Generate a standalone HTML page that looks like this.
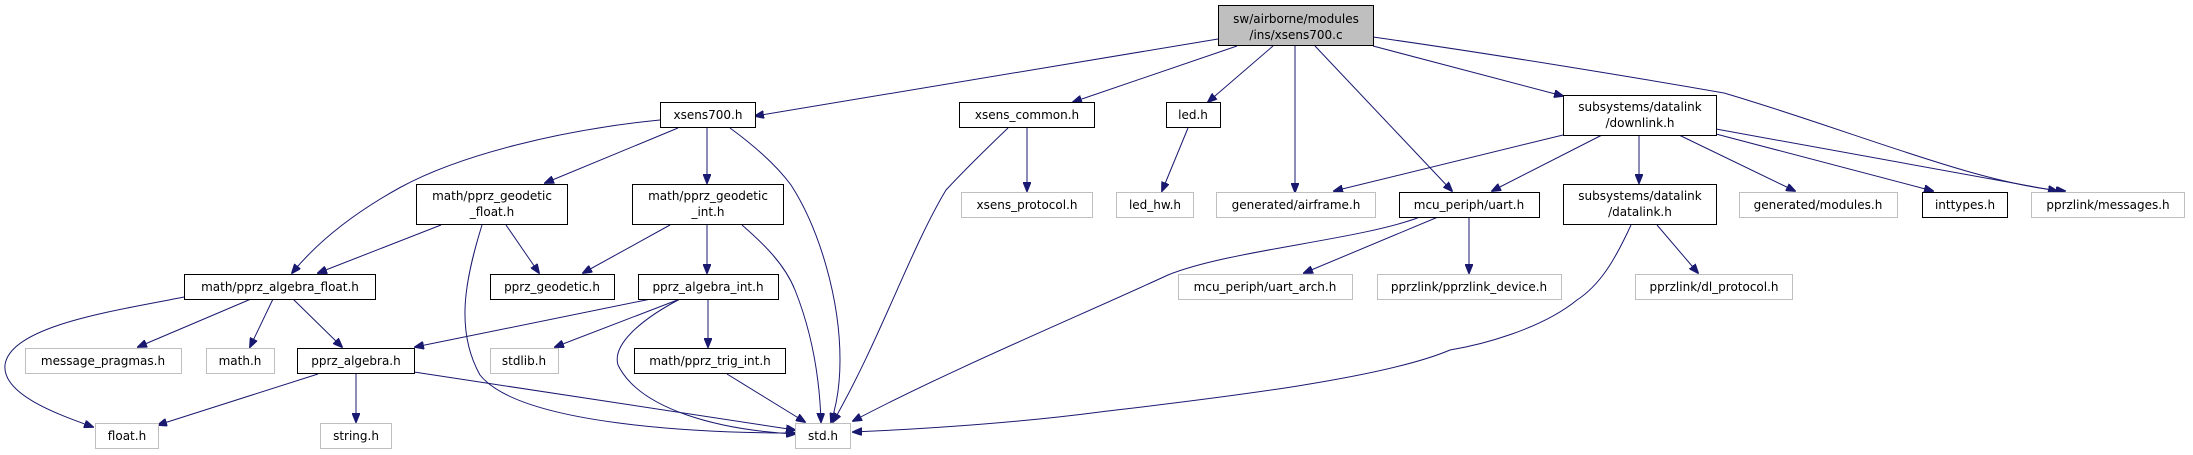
<!DOCTYPE html>
<html><head><meta charset="utf-8"><style>
html,body{margin:0;padding:0;background:#fff;}
svg{display:block;}
text{font-family:"DejaVu Sans","Liberation Sans",sans-serif;font-size:12px;fill:#000;text-anchor:middle;}
.b{fill:#fff;stroke:#000;stroke-width:1;}
.g{fill:#fff;stroke:#bfbfbf;stroke-width:1;}
.m{fill:#bfbfbf;stroke:#000;stroke-width:1;}
path.e{fill:none;stroke:#191970;stroke-width:1;marker-end:url(#a);}
</style></head><body>
<svg width="2193" height="455" viewBox="0 0 2193 455" xmlns="http://www.w3.org/2000/svg">
<defs><marker id="a" markerWidth="10" markerHeight="8" refX="9" refY="4" orient="auto" markerUnits="userSpaceOnUse"><path d="M0,0 L10,4 L0,8 z" fill="#191970" stroke="#191970"/></marker></defs>

<!-- edges -->
<path class="e" d="M1218,39 L755,116"/>
<path class="e" d="M1237,46 L1073,102"/>
<path class="e" d="M1273,46 L1208,102"/>
<path class="e" d="M1295,46 L1295,192"/>
<path class="e" d="M1315,46 L1452,191"/>
<path class="e" d="M1373,46 L1563,96"/>
<path class="e" d="M1373,37 C1500,55 1650,80 1724,93 C1850,130 1980,185 2065,191"/>
<path class="e" d="M660,120 C560,130 460,155 401,187 C350,215 315,245 292,273"/>
<path class="e" d="M678,128 L545,183"/>
<path class="e" d="M707,128 L707,183"/>
<path class="e" d="M730,128 C760,150 780,170 791,185 C820,230 840,300 840,360 C840,390 835,410 831,422"/>
<path class="e" d="M441,225 L318,273"/>
<path class="e" d="M506,225 L539,273"/>
<path class="e" d="M482,225 C465,280 455,330 480,375 C520,425 700,433 795,433"/>
<path class="e" d="M670,225 L583,273"/>
<path class="e" d="M707,225 L707,273"/>
<path class="e" d="M742,225 C765,245 785,265 795,290 C815,340 820,390 821,422"/>
<path class="e" d="M184,297 C120,310 10,325 5,365 C2,395 60,415 93,427"/>
<path class="e" d="M251,299 L138,347"/>
<path class="e" d="M273,299 L250,347"/>
<path class="e" d="M293,299 L342,347"/>
<path class="e" d="M651,299 L415,347"/>
<path class="e" d="M680,299 L555,347"/>
<path class="e" d="M708,299 L708,347"/>
<path class="e" d="M680,299 C640,320 612,345 618,365 C640,410 720,430 795,434"/>
<path class="e" d="M318,374 L158,425"/>
<path class="e" d="M356,374 L356,422"/>
<path class="e" d="M414,372 L795,430"/>
<path class="e" d="M727,374 L805,422"/>
<path class="e" d="M1027,128 L1027,191"/>
<path class="e" d="M1008,128 C985,150 960,175 946,190 C910,250 880,340 833,422"/>
<path class="e" d="M1188,128 L1162,191"/>
<path class="e" d="M1420,217 C1360,240 1230,250 1168,275 C1070,320 950,370 853,421"/>
<path class="e" d="M1438,217 L1304,273"/>
<path class="e" d="M1469,217 L1469,273"/>
<path class="e" d="M1563,135 L1334,191"/>
<path class="e" d="M1602,135 L1492,191"/>
<path class="e" d="M1639,135 L1639,183"/>
<path class="e" d="M1679,135 L1795,191"/>
<path class="e" d="M1716,134 L1933,191"/>
<path class="e" d="M1716,129 L2057,191"/>
<path class="e" d="M1631,225 C1615,260 1600,285 1577,300 C1540,330 1480,345 1450,350 C1380,380 1200,400 1100,412 C1000,425 900,430 853,432"/>
<path class="e" d="M1657,225 L1698,273"/>

<!-- nodes -->
<rect class="m" x="1218.5" y="5.5" width="155" height="40"/>
<text x="1296" y="23">sw/airborne/modules</text><text x="1296" y="39">/ins/xsens700.c</text>

<rect class="b" x="660.5" y="102.5" width="95" height="25"/><text x="708" y="119">xsens700.h</text>
<rect class="b" x="959.5" y="102.5" width="135" height="25"/><text x="1027" y="119">xsens_common.h</text>
<rect class="b" x="1166.5" y="102.5" width="54" height="25"/><text x="1193" y="119">led.h</text>
<rect class="b" x="1563.5" y="95.5" width="153" height="40"/>
<text x="1640" y="111">subsystems/datalink</text><text x="1640" y="127">/downlink.h</text>

<rect class="b" x="416.5" y="184.5" width="151" height="40"/>
<text x="492" y="200">math/pprz_geodetic</text><text x="492" y="216">_float.h</text>
<rect class="b" x="632.5" y="184.5" width="151" height="40"/>
<text x="708" y="200">math/pprz_geodetic</text><text x="708" y="216">_int.h</text>
<rect class="g" x="961.5" y="192.5" width="131" height="25"/><text x="1027" y="209">xsens_protocol.h</text>
<rect class="g" x="1116.5" y="192.5" width="77" height="25"/><text x="1155" y="209">led_hw.h</text>
<rect class="g" x="1216.5" y="192.5" width="159" height="25"/><text x="1296" y="209">generated/airframe.h</text>
<rect class="b" x="1399.5" y="192.5" width="140" height="25"/><text x="1469" y="209">mcu_periph/uart.h</text>
<rect class="b" x="1563.5" y="184.5" width="153" height="40"/>
<text x="1640" y="200">subsystems/datalink</text><text x="1640" y="216">/datalink.h</text>
<rect class="g" x="1739.5" y="192.5" width="158" height="25"/><text x="1818" y="209">generated/modules.h</text>
<rect class="b" x="1922.5" y="192.5" width="85" height="25"/><text x="1965" y="209">inttypes.h</text>
<rect class="g" x="2031.5" y="192.5" width="153" height="25"/><text x="2108" y="209">pprzlink/messages.h</text>

<rect class="b" x="184.5" y="274.5" width="191" height="25"/><text x="280" y="291">math/pprz_algebra_float.h</text>
<rect class="b" x="490.5" y="274.5" width="124" height="25"/><text x="552" y="291">pprz_geodetic.h</text>
<rect class="b" x="638.5" y="274.5" width="140" height="25"/><text x="708" y="291">pprz_algebra_int.h</text>
<rect class="g" x="1178.5" y="274.5" width="174" height="25"/><text x="1265" y="291">mcu_periph/uart_arch.h</text>
<rect class="g" x="1377.5" y="274.5" width="184" height="25"/><text x="1469" y="291">pprzlink/pprzlink_device.h</text>
<rect class="g" x="1635.5" y="274.5" width="157" height="25"/><text x="1714" y="291">pprzlink/dl_protocol.h</text>

<rect class="g" x="25.5" y="348.5" width="156" height="25"/><text x="103" y="365">message_pragmas.h</text>
<rect class="g" x="206.5" y="348.5" width="68" height="25"/><text x="240" y="365">math.h</text>
<rect class="b" x="297.5" y="348.5" width="117" height="25"/><text x="356" y="365">pprz_algebra.h</text>
<rect class="g" x="490.5" y="348.5" width="68" height="25"/><text x="524" y="365">stdlib.h</text>
<rect class="b" x="634.5" y="348.5" width="151" height="25"/><text x="710" y="365">math/pprz_trig_int.h</text>

<rect class="g" x="95.5" y="423.5" width="63" height="25"/><text x="127" y="440">float.h</text>
<rect class="g" x="320.5" y="423.5" width="71" height="25"/><text x="356" y="440">string.h</text>
<rect class="g" x="795.5" y="423.5" width="55" height="25"/><text x="823" y="440">std.h</text>
</svg>
</body></html>
